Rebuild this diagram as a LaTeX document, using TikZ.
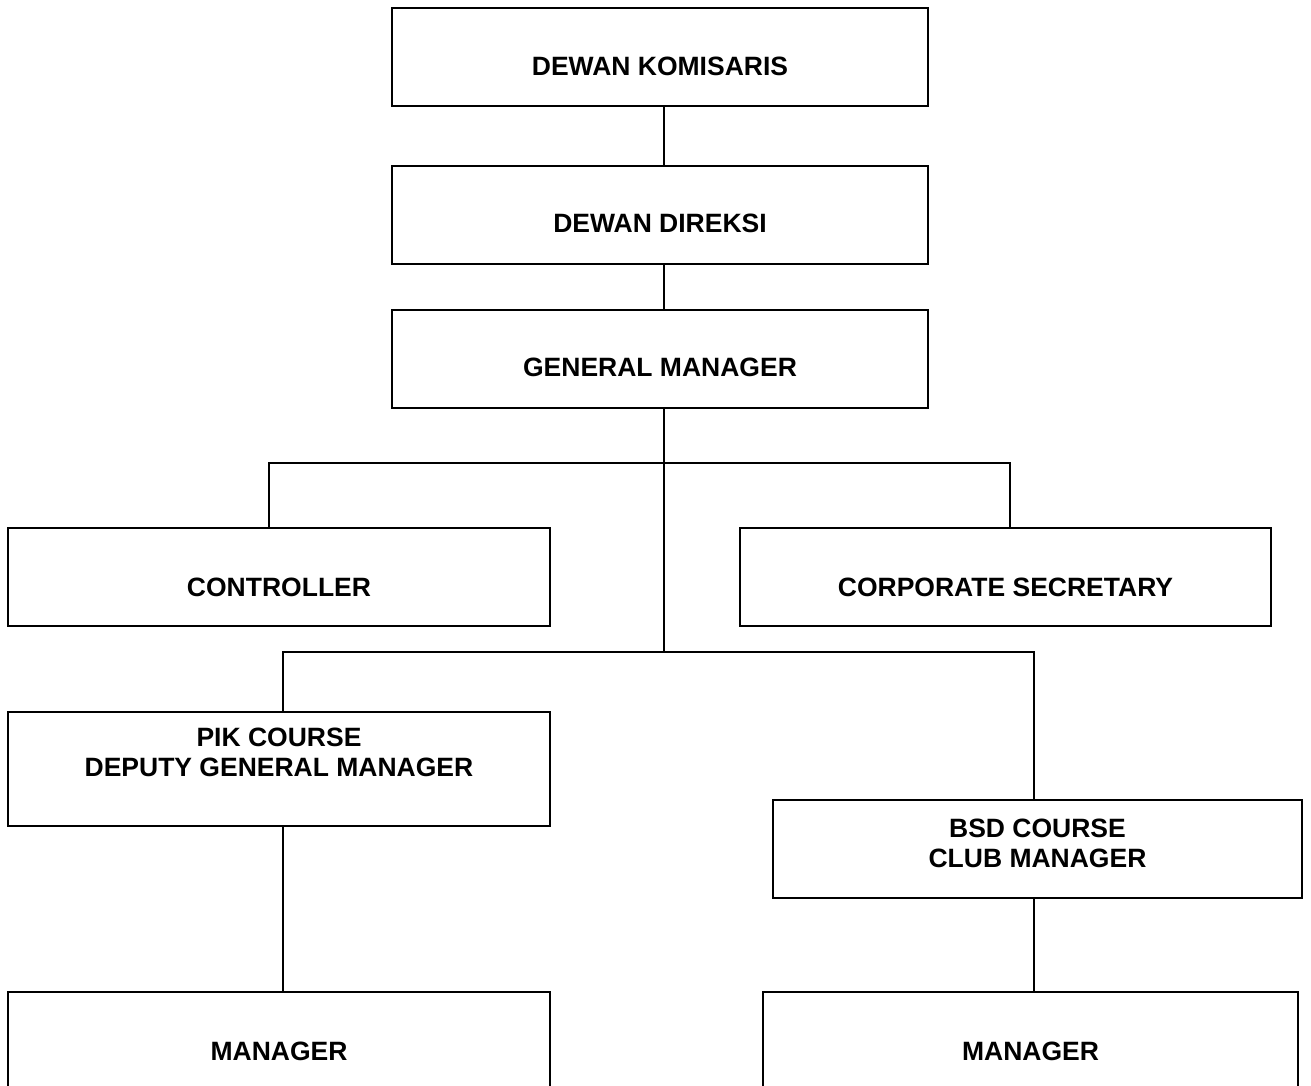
\documentclass[tikz,border=0pt]{standalone}
\usepackage{fontspec}
\setmainfont{Liberation Sans}
\begin{document}
\begin{tikzpicture}[x=1pt,y=-1pt,
  box/.style={draw=black,line width=1.6pt,fill=white,inner sep=0pt},
  lbl/.style={font=\fontsize{26.5}{30}\selectfont\bfseries,anchor=base,inner sep=0pt,align=center},
  conn/.style={draw=black,line width=1.6pt}]
\useasboundingbox (0,0) rectangle (1311,1086);
\clip (0,0) rectangle (1311,1086);
\fill[white] (0,0) rectangle (1311,1086);
% boxes
\node[box,minimum width=536pt,minimum height=98pt] (kom) at (660,57) {};
\node[box,minimum width=536pt,minimum height=98pt] (dir) at (660,215) {};
\node[box,minimum width=536pt,minimum height=98pt] (gm) at (660,359) {};
\node[box,minimum width=542pt,minimum height=98pt] (ctl) at (279,577) {};
\node[box,minimum width=531pt,minimum height=98pt] (sec) at (1005.5,577) {};
\node[box,minimum width=542pt,minimum height=114pt] (pik) at (279,769) {};
\node[box,minimum width=529pt,minimum height=98pt] (bsd) at (1037.5,849) {};
\node[box,minimum width=542pt,minimum height=130pt] (mg1) at (279,1057) {};
\node[box,minimum width=535pt,minimum height=130pt] (mg2) at (1030.5,1057) {};
% labels
\node[lbl] (tkom) at (660,76) {DEWAN KOMISARIS};
\node[lbl] (tdir) at (660,233) {DEWAN DIREKSI};
\node[lbl] (tgm) at (660,376) {GENERAL MANAGER};
\node[lbl] (tctl) at (279,596) {CONTROLLER};
\node[lbl] (tsec) at (1005.5,596) {CORPORATE SECRETARY};
\node[lbl] (tpik1) at (279,746) {PIK COURSE};
\node[lbl] (tpik2) at (279,776) {DEPUTY GENERAL MANAGER};
\node[lbl] (tbsd1) at (1037.5,837) {BSD COURSE};
\node[lbl] (tbsd2) at (1037.5,867) {CLUB MANAGER};
\node[lbl] (tmg1) at (279,1060) {MANAGER};
\node[lbl] (tmg2) at (1030.5,1060) {MANAGER};
% connectors
\coordinate (bus1) at (664,463);
\coordinate (bus2) at (664,652);
\draw[conn] ([xshift=4pt]kom.south) -- ([xshift=4pt]dir.north);
\draw[conn] ([xshift=4pt]dir.south) -- ([xshift=4pt]gm.north);
\draw[conn] ([xshift=4pt]gm.south) -- (bus2);
\draw[conn] ([xshift=-10pt]ctl.north) |- (bus1) -| ([xshift=4.5pt]sec.north);
\draw[conn] ([xshift=4pt]pik.north) |- (bus2) -| ([xshift=-3.5pt]bsd.north);
\draw[conn] ([xshift=4pt]pik.south) -- ([xshift=4pt]mg1.north);
\draw[conn] ([xshift=-3.5pt]bsd.south) -- ([xshift=-3.5pt]bsd.south |- mg2.north);
\end{tikzpicture}
\end{document}
